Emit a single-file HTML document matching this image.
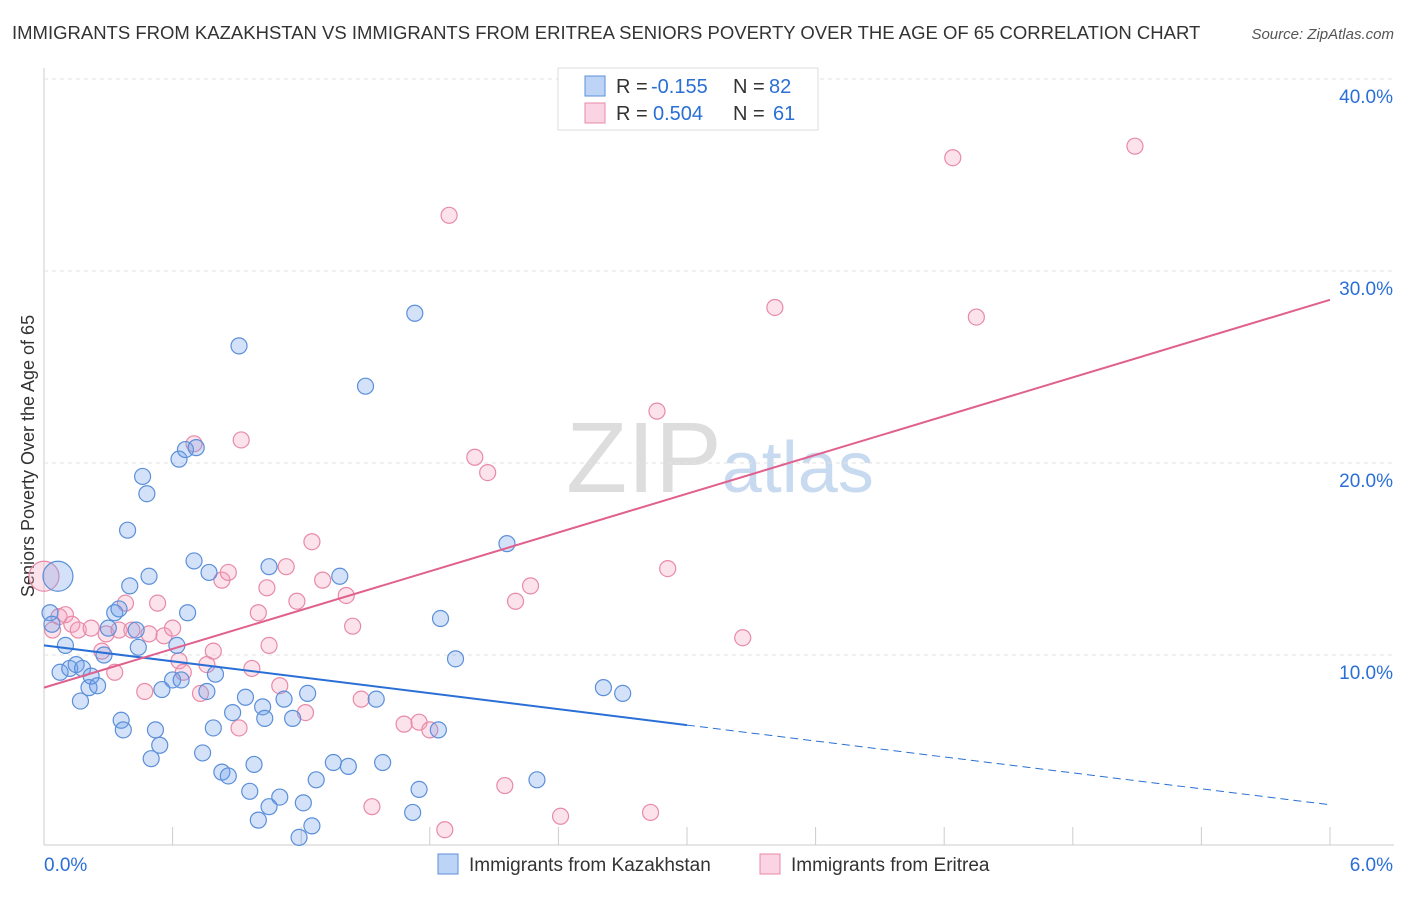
<!DOCTYPE html>
<html><head><meta charset="utf-8"><style>
body{margin:0;background:#fff;font-family:"Liberation Sans",sans-serif;}
svg text{font-family:"Liberation Sans",sans-serif;}
</style></head><body>
<svg id="chart" width="1406" height="892">
<text x="12" y="39" font-size="18.5" fill="#333">IMMIGRANTS FROM KAZAKHSTAN VS IMMIGRANTS FROM ERITREA SENIORS POVERTY OVER THE AGE OF 65 CORRELATION CHART</text>
<text x="1394" y="39" font-size="15" fill="#555" font-style="italic" text-anchor="end">Source: ZipAtlas.com</text>
<text x="34" y="456" font-size="18" fill="#333" text-anchor="middle" transform="rotate(-90 34 456)">Seniors Poverty Over the Age of 65</text>
<text x="720" y="492" font-size="100" fill="#ddd" text-anchor="middle" font-family="Liberation Serif">ZIP<tspan fill="#c8daf0" font-family="Liberation Sans" font-size="72">atlas</tspan></text>
<g id="grid"></g><g id="marks"></g>
<g>
<rect x="558" y="68" width="260" height="62" fill="#fff" stroke="#ddd"/>
<rect x="585" y="76" width="20" height="20" fill="rgba(110,160,235,0.45)" stroke="#5b8fd9"/>
<rect x="585" y="103" width="20" height="20" fill="rgba(245,160,190,0.45)" stroke="#e88aa8"/>
<text x="616" y="93" font-size="20" fill="#333">R =</text>
<text x="651" y="93" font-size="20" fill="#2a6fd6">-0.155</text>
<text x="733" y="93" font-size="20" fill="#333">N =</text>
<text x="769" y="93" font-size="20" fill="#2a6fd6">82</text>
<text x="616" y="120" font-size="20" fill="#333">R =</text>
<text x="653" y="120" font-size="20" fill="#2a6fd6">0.504</text>
<text x="733" y="120" font-size="20" fill="#333">N =</text>
<text x="773" y="120" font-size="20" fill="#2a6fd6">61</text>
</g>
<g>
<rect x="438" y="854" width="20" height="20" fill="rgba(110,160,235,0.45)" stroke="#5b8fd9"/>
<text x="469" y="871" font-size="19" fill="#333">Immigrants from Kazakhstan</text>
<rect x="760" y="854" width="20" height="20" fill="rgba(245,160,190,0.45)" stroke="#e88aa8"/>
<text x="791" y="871" font-size="19" fill="#333">Immigrants from Eritrea</text>
</g>
</svg>
<script>
const blueX=[.065,.028,.037,.10,.075,.12,.15,.18,.17,.21,.22,.25,.28,.30,.33,.35,.36,.37,.39,.40,.43,.44,.46,.48,.49,.50,.52,.54,.55,.60,.62,.63,.64,.66,.67,.71,.70,.74,.76,.77,.79,.80,.83,.86,.88,.91,.94,.96,.98,1.00,1.02,1.03,1.05,1.05,1.10,1.12,1.16,1.19,1.21,1.23,1.25,1.27,1.35,1.38,1.42,1.50,1.55,1.58,1.72,1.73,1.75,1.84,1.85,1.92,2.16,2.30,2.61,2.70];
const blueY=[14.1,12.2,11.6,10.5,9.1,9.3,9.5,9.3,7.6,8.3,8.9,8.4,10.0,11.4,12.2,12.4,6.6,6.1,16.5,13.6,11.3,10.4,19.3,18.4,14.1,4.6,6.1,5.3,8.2,8.7,10.5,20.2,8.7,20.7,12.2,20.8,14.9,4.9,8.1,14.3,6.2,9.0,3.9,3.7,7.0,26.1,7.8,2.9,4.3,1.4,7.3,6.7,14.6,2.1,2.6,7.7,6.7,0.5,2.3,8.0,1.1,3.5,4.4,14.1,4.2,24.0,7.7,4.4,1.8,27.8,3.0,6.1,11.9,9.8,15.8,3.5,8.3,8.0];
const pinkX=[0,.04,.07,.10,.13,.16,.22,.27,.29,.33,.35,.38,.41,.47,.49,.53,.56,.60,.63,.65,.70,.73,.76,.79,.83,.86,.91,.92,.97,1.00,1.04,1.05,1.10,1.13,1.18,1.22,1.25,1.30,1.41,1.44,1.48,1.53,1.68,1.75,1.80,1.87,1.89,2.01,2.07,2.15,2.20,2.27,2.41,2.83,2.86,2.91,3.26,3.41,4.24,4.35,5.09];
const pinkY=[14.1,11.3,12.0,12.1,11.6,11.3,11.4,10.2,11.1,9.1,11.3,12.7,11.3,8.1,11.1,12.7,11.0,11.4,9.7,9.1,21.0,8.0,9.5,10.2,13.9,14.3,6.2,21.2,9.3,12.2,13.5,10.5,8.4,14.6,12.8,7.0,15.9,13.9,13.1,11.5,7.7,2.1,6.4,6.5,6.1,0.9,32.9,20.3,19.5,3.2,12.8,13.6,1.6,1.8,22.7,14.5,10.9,28.1,35.9,27.6,36.5];
const blueTrend=[10.5,2.2];
const pinkTrend=[8.3,28.5];
const yTicks=[10,20,30,40];
const xTickVals=[0.6,1.2,1.8,2.4,3.0,3.6,4.2,4.8,5.4,6.0];
const NS="http://www.w3.org/2000/svg";
const sx=v=>44+v/6*1286, sy=v=>847-v*19.2;
function mk(tag,attrs,parent){const e=document.createElementNS(NS,tag);for(const k in attrs)e.setAttribute(k,attrs[k]);parent.appendChild(e);return e;}
const grid=document.getElementById('grid'),marks=document.getElementById('marks');
let e=mk('line',{x1:44,x2:44,y1:68,y2:845,stroke:'#ccc'},grid);


e=mk('line',{x1:44,x2:1394,y1:845,y2:845,stroke:'#ccc'},grid);


yTicks.forEach(t=>{
 let g=mk('line',{x1:44,x2:1394,y1:sy(t),y2:sy(t),stroke:'#e2e2e2','stroke-dasharray':'4 4'},grid);
 
 
 let l=mk('text',{x:1393,y:sy(t)+24,'font-size':19,fill:'#2a6fd6','text-anchor':'end'},grid);l.textContent=t.toFixed(1)+'%';
 
 
});
xTickVals.forEach(t=>{
 let g=mk('line',{x1:sx(t),x2:sx(t),y1:827,y2:845,stroke:'#ccc'},grid);
 
 
});
let xl=mk('text',{x:44,y:871,'font-size':19,fill:'#2a6fd6'},grid);xl.textContent='0.0%';


xl=mk('text',{x:1393,y:871,'font-size':19,fill:'#2a6fd6','text-anchor':'end'},grid);xl.textContent='6.0%';


function pts(X,Y,fill,stroke,name){X.forEach((x,i)=>{
 const r=(i===0)?15:8;
 const c=mk('circle',{cx:sx(x),cy:sy(Y[i]),r:r,fill:fill,stroke:stroke,'stroke-width':1.2},marks);
 
 
});}
pts(pinkX,pinkY,'rgba(245,160,190,0.3)','#e88aa8','point-eritrea');
pts(blueX,blueY,'rgba(110,160,235,0.3)','#5b8fd9','point-kazakhstan');
const bAt=x=>blueTrend[0]+(blueTrend[1]-blueTrend[0])*x/6;
let t=mk('line',{x1:sx(0),y1:sy(bAt(0)),x2:sx(3),y2:sy(bAt(3)),stroke:'#2a6fd6','stroke-width':2},marks);


t=mk('line',{x1:sx(3),y1:sy(bAt(3)),x2:sx(6),y2:sy(bAt(6)),stroke:'#2a6fd6','stroke-width':1,'stroke-dasharray':'8 5'},marks);


t=mk('line',{x1:sx(0),y1:sy(pinkTrend[0]),x2:sx(6),y2:sy(pinkTrend[1]),stroke:'#e0608e','stroke-width':2},marks);


</script>
</body></html>
